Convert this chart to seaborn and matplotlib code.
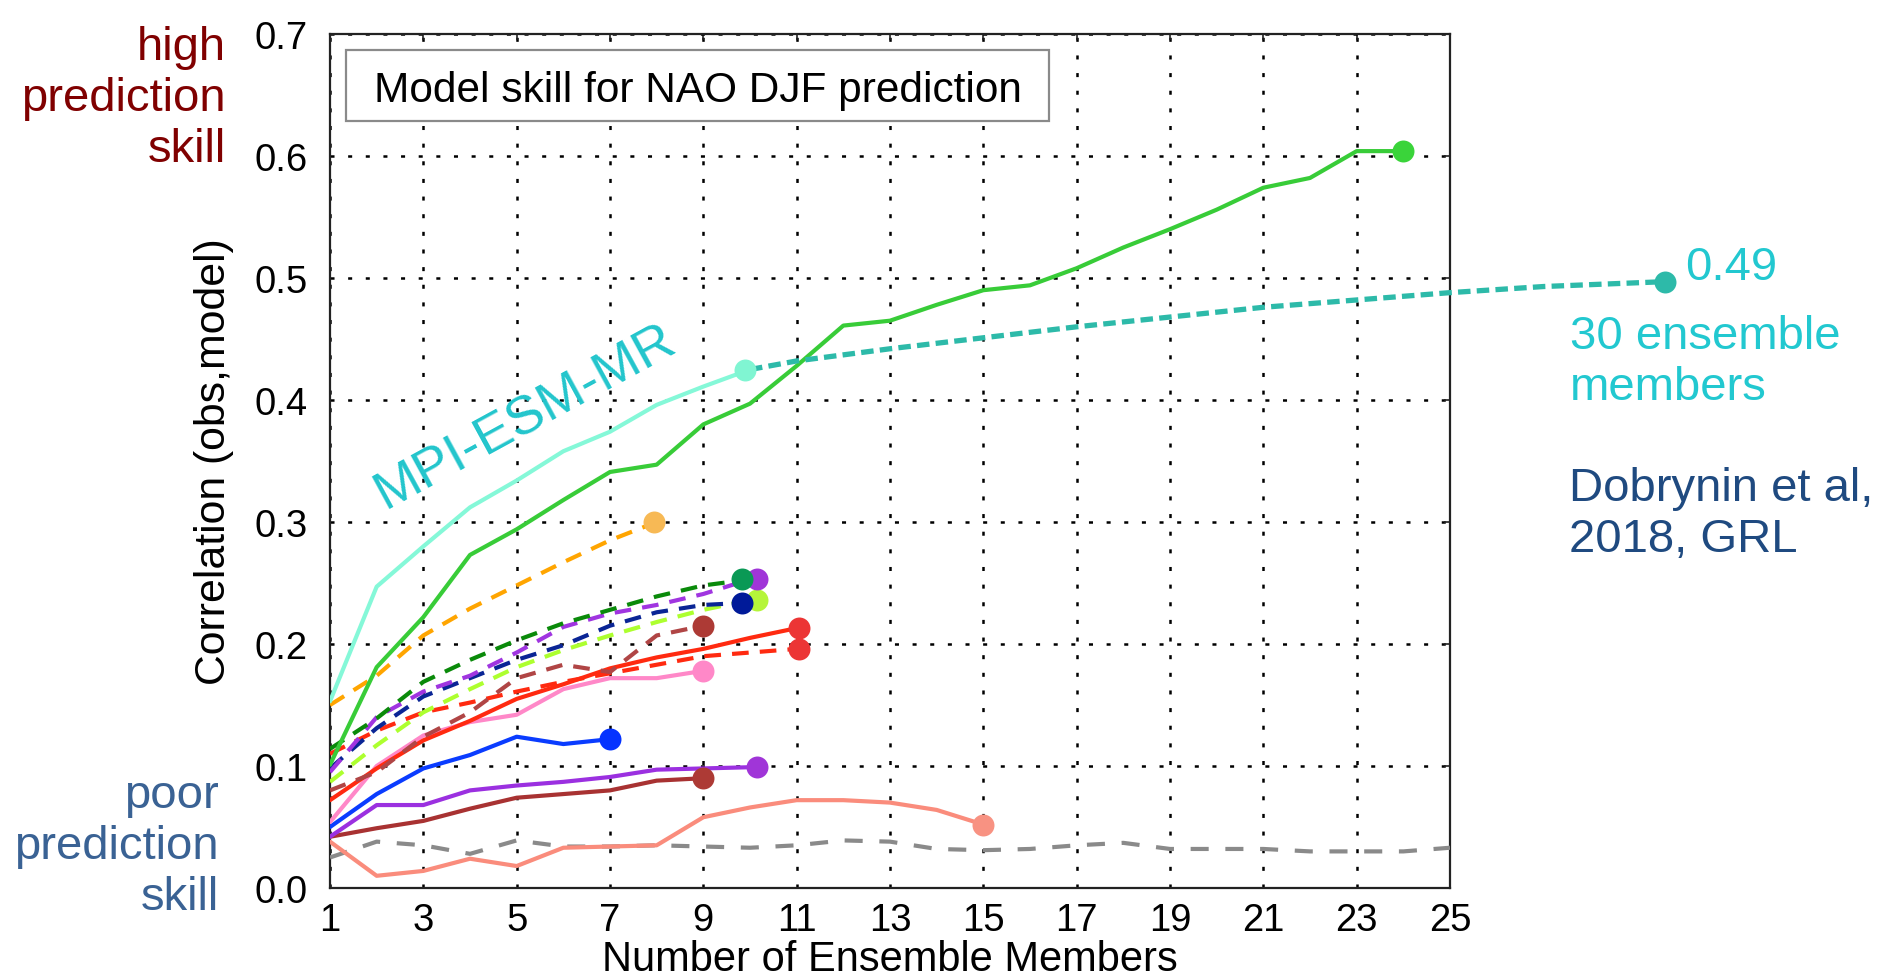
import matplotlib
matplotlib.use("Agg")
import matplotlib.pyplot as plt
from matplotlib.patches import Rectangle
import numpy as np
import pandas as pd
import seaborn as sns

# ---------------------------------------------------------------- data
# correlation (obs, model) of NAO DJF for growing ensemble size
mpi_esm_mr = [0.153, 0.247, 0.280, 0.312, 0.334, 0.358, 0.374, 0.396, 0.411, 0.425]
green_solid = [0.101, 0.181, 0.222, 0.273, 0.294, 0.318, 0.341, 0.347, 0.380, 0.397,
               0.428, 0.461, 0.465, 0.478, 0.490, 0.494, 0.508, 0.525, 0.540, 0.556,
               0.574, 0.582, 0.604, 0.604]
orange_dash = [0.150, 0.174, 0.207, 0.229, 0.248, 0.267, 0.285, 0.300]
darkgreen_dash = [0.114, 0.139, 0.169, 0.187, 0.203, 0.217, 0.228, 0.239, 0.248, 0.253]
purple_dash = [0.095, 0.140, 0.161, 0.174, 0.193, 0.214, 0.225, 0.232, 0.241, 0.253]
navy_dash = [0.098, 0.131, 0.157, 0.172, 0.187, 0.199, 0.215, 0.226, 0.232, 0.234]
lime_dash = [0.087, 0.117, 0.144, 0.163, 0.181, 0.195, 0.207, 0.218, 0.228, 0.236]
brown_dash = [0.080, 0.095, 0.124, 0.144, 0.172, 0.183, 0.177, 0.207, 0.215]
red_solid = [0.072, 0.098, 0.121, 0.137, 0.155, 0.167, 0.180, 0.189, 0.196, 0.205, 0.213]
red_dash = [0.110, 0.129, 0.144, 0.152, 0.161, 0.169, 0.176, 0.183, 0.190, 0.193, 0.196]
pink_solid = [0.054, 0.100, 0.125, 0.136, 0.142, 0.163, 0.172, 0.172, 0.178]
blue_solid = [0.050, 0.077, 0.098, 0.109, 0.124, 0.118, 0.122]
purple_solid = [0.042, 0.068, 0.068, 0.080, 0.084, 0.087, 0.091, 0.097, 0.098, 0.099]
brown_solid = [0.042, 0.049, 0.055, 0.065, 0.074, 0.077, 0.080, 0.088, 0.090]
salmon_solid = [0.038, 0.010, 0.014, 0.024, 0.018, 0.033, 0.034, 0.035, 0.058, 0.066,
                0.072, 0.072, 0.070, 0.064, 0.052]
gray_dash = [0.025, 0.038, 0.035, 0.028, 0.039, 0.034, 0.034, 0.035, 0.034, 0.033,
             0.035, 0.039, 0.038, 0.032, 0.031, 0.032, 0.035, 0.037, 0.032, 0.032,
             0.032, 0.030, 0.030, 0.030, 0.033]

# MPI-ESM-MR extended to 30 members
mpi_ext_members = [10, 11, 13, 15, 17, 19, 21, 23, 25, 27, 29.6]
mpi_ext_corr = [0.425, 0.432, 0.442, 0.451, 0.460, 0.468, 0.476, 0.482, 0.488, 0.493, 0.497]

x_ticks = list(range(1, 26, 2))
y_ticks = [0.0, 0.1, 0.2, 0.3, 0.4, 0.5, 0.6, 0.7]

# ---------------------------------------------------------------- styles
DASH = (0, (12, 8))
series = [
    # values, line colour, dot colour, linestyle, dot shift
    (gray_dash, "#8a8a8a", None, (0, (13, 12)), 0.0),
    (salmon_solid, "#fa8c7c", "#f89282", "-", 0.0),
    (brown_solid, "#a83232", "#ad3a35", "-", 0.0),
    (purple_solid, "#9b30e0", "#a035d8", "-", 0.16),
    (blue_solid, "#0a3cff", "#0533ff", "-", 0.0),
    (pink_solid, "#ff88c8", "#ff88c8", "-", 0.0),
    (red_dash, "#ff2a10", "#ec3535", DASH, 0.05),
    (red_solid, "#ff2a10", "#ec3535", "-", 0.05),
    (brown_dash, "#b04545", "#ad3a35", DASH, 0.0),
    (lime_dash, "#adff2f", "#b5f53a", DASH, 0.16),
    (navy_dash, "#0a2595", "#001a99", DASH, -0.18),
    (purple_dash, "#a035e0", "#a035d8", DASH, 0.16),
    (darkgreen_dash, "#0a8a0a", "#0a9955", DASH, -0.18),
    (orange_dash, "#ffa500", "#f7b955", DASH, -0.05),
    (green_solid, "#38cc38", "#3ad43a", "-", 0.0),
    (mpi_esm_mr, "#85f8d8", "#80f5d2", "-", -0.1),
]

sns.set_theme(style="white")
plt.rcParams["font.family"] = ["Liberation Sans", "DejaVu Sans"]
plt.rcParams["lines.scale_dashes"] = False

W, H = 1892, 978
fig = plt.figure(figsize=(W / 100, H / 100), dpi=100)
ax = fig.add_axes([330 / W, 1 - 889 / H, 1120 / W, 854 / H])

# lines first, dots afterwards (dots on top)
for vals, lc, dc, ls, shift in series:
    df = pd.DataFrame({"members": np.arange(1, len(vals) + 1), "corr": vals})
    sns.lineplot(data=df, x="members", y="corr", color=lc, linestyle=ls,
                 linewidth=3.0, errorbar=None, sort=False, ax=ax, zorder=3)

ext = pd.DataFrame({"members": mpi_ext_members, "corr": mpi_ext_corr})
sns.lineplot(data=ext, x="members", y="corr", color="#2dbaa9", linestyle=(0, (9, 4.5)),
             linewidth=3.8, errorbar=None, sort=False, ax=ax, zorder=4, clip_on=False)

# end-of-curve dots (shifted ones first so the unshifted sit on top)
order = sorted(range(len(series)), key=lambda i: -series[i][4])
for i in order:
    vals, lc, dc, ls, shift = series[i]
    if dc is None:
        continue
    sns.scatterplot(x=[len(vals) + shift], y=[vals[-1]], color=dc, s=250,
                    linewidth=0, ax=ax, zorder=5, legend=False, clip_on=False)
sns.scatterplot(x=[mpi_ext_members[-1]], y=[mpi_ext_corr[-1]], color="#2dbaa9", s=250,
                linewidth=0, ax=ax, zorder=5, legend=False, clip_on=False)

# ---------------------------------------------------------------- axes
ax.set_xlim(1, 25)
ax.set_ylim(0, 0.7)
ax.set_xticks(x_ticks)
ax.set_yticks(y_ticks)
ax.set_yticklabels([f"{v:.1f}" for v in y_ticks])
ax.grid(True, color="black", linestyle=(0, (2.9, 9.8)), linewidth=1.8)
ax.set_axisbelow(True)
ax.tick_params(axis="both", direction="in", length=4, width=1.2, color="#222222",
               top=True, right=True, labelsize=27.5, labelcolor="black")
ax.tick_params(axis="y", pad=16)
ax.tick_params(axis="x", pad=10)
for sp in ax.spines.values():
    sp.set_color("#222222")
    sp.set_linewidth(1.6)
ax.set_xlabel("Number of Ensemble Members", fontsize=30, color="black", labelpad=1)
ax.set_ylabel("Correlation (obs,model)", fontsize=30.8, color="black", labelpad=15)

# ---------------------------------------------------------------- annotations
fig.add_artist(Rectangle((346 / W, 1 - 121.7 / H), 703 / W, 71 / H,
                         transform=fig.transFigure, facecolor="white",
                         edgecolor="#8a8a8a", linewidth=1.6, zorder=6))
fig.text(373.5 / W, 1 - 101.7 / H, "Model skill for NAO DJF prediction",
         fontsize=30.5, color="black", ha="left", va="baseline", zorder=7)

ax.text(5.32, 0.3765, "MPI-ESM-MR", fontsize=39, color="#22c5cc", rotation=28.6,
        rotation_mode="anchor", ha="center", va="baseline", zorder=6)

# multi-line texts are anchored on the baseline of their last line
fig.text(1685 / W, 1 - 280 / H, "0.49", fontsize=34, color="#22c8d0",
         ha="left", va="baseline")
fig.text(1570 / W, 1 - 400 / H, "30 ensemble\nmembers", fontsize=34, color="#22c8d0",
         ha="left", va="baseline", linespacing=1.2)
fig.text(1569 / W, 1 - 552 / H, "Dobrynin et al,\n2018, GRL", fontsize=34,
         color="#1f4a80", ha="left", va="baseline", linespacing=1.2)
fig.text(226 / W, 1 - 162 / H, "high\nprediction\nskill", fontsize=34,
         color="#800000", ha="right", va="baseline", multialignment="right",
         linespacing=1.2)
fig.text(219 / W, 1 - 910 / H, "poor\nprediction\nskill", fontsize=34,
         color="#3a6294", ha="right", va="baseline", multialignment="right",
         linespacing=1.2)

fig.savefig("out.png", dpi=100, facecolor="white")
